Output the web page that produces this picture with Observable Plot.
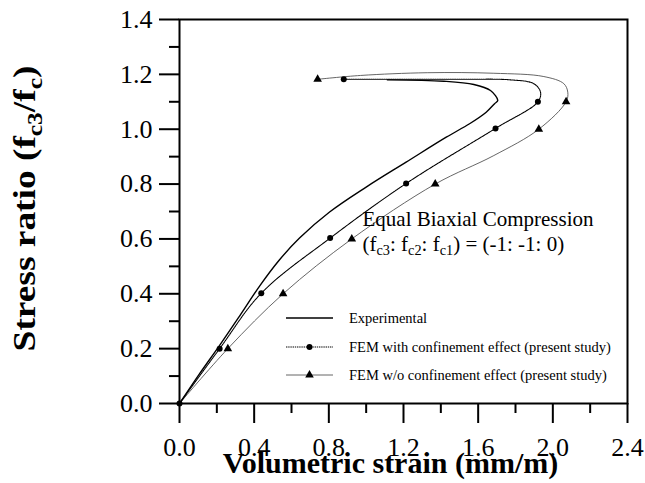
<!DOCTYPE html>
<html>
<head>
<meta charset="utf-8">
<script src="https://cdn.jsdelivr.net/npm/d3@7"></script>
<script src="https://cdn.jsdelivr.net/npm/@observablehq/plot@0.6"></script>
<style>
  body { margin: 0; background: #fff; }
</style>
</head>
<body>
<div id="chart"></div>
<script>
// Experimental stress–volumetric strain curve (equal biaxial compression)
const expStrain = [0, 0.107, 0.214, 0.321, 0.429, 0.536, 0.643, 0.804, 1.0, 1.214, 1.429, 1.554, 1.643, 1.688, 1.705, 1.666, 1.577, 1.416, 1.113];
const expStress = [0, 0.108, 0.211, 0.318, 0.428, 0.524, 0.603, 0.698, 0.789, 0.88, 0.971, 1.02, 1.062, 1.093, 1.105, 1.141, 1.163, 1.175, 1.18];

// FEM with confinement effect: traced curve and computed points
const withStrain = [0, 0.215, 0.438, 0.807, 1.214, 1.693, 1.92, 1.934, 1.898, 1.773, 1.505, 0.88];
const withStress = [0, 0.2, 0.402, 0.603, 0.802, 1.003, 1.1, 1.135, 1.166, 1.18, 1.182, 1.182];
const withPtStrain = [0, 0.215, 0.438, 0.807, 1.214, 1.693, 1.92, 0.88];
const withPtStress = [0, 0.2, 0.402, 0.603, 0.802, 1.003, 1.1, 1.182];

// FEM without confinement effect: traced curve and computed points
const woStrain = [0, 0.259, 0.555, 0.923, 1.37, 1.684, 1.925, 2.071, 2.08, 2.059, 1.952, 1.684, 1.327, 0.97, 0.74];
const woStress = [0, 0.2, 0.4, 0.6, 0.8, 0.904, 1.0, 1.1, 1.135, 1.166, 1.192, 1.204, 1.206, 1.196, 1.182];
const woPtStrain = [0.259, 0.555, 0.923, 1.37, 1.925, 2.071, 0.74];
const woPtStress = [0.2, 0.4, 0.6, 0.8, 1.0, 1.1, 1.182];

// Axis ticks
const xMajor = [0, 0.4, 0.8, 1.2, 1.6, 2.0, 2.4];
const xMinor = [0.2, 0.6, 1.0, 1.4, 1.8, 2.2];
const yMajor = [0, 0.2, 0.4, 0.6, 0.8, 1.0, 1.2, 1.4];
const yMinor = [0.1, 0.3, 0.5, 0.7, 0.9, 1.1, 1.3];

// Text
const xTitle = "Volumetric strain (mm/m)";
const yTitle = "Stress ratio (f_{c3}/f_{c})";
const noteLine1 = "Equal Biaxial Compression";
const noteLine2 = "(f_{c3}: f_{c2}: f_{c1}) = (-1: -1: 0)";
const seriesNames = [
  "Experimental",
  "FEM with confinement effect (present study)",
  "FEM w/o confinement effect (present study)"
];

const pts = (xs, ys) => xs.map((x, i) => ({x, y: ys[i]}));
const fmt = d3.format(".1f");
const serif = "'Liberation Serif', 'Times New Roman', serif";
const dotted = "1.4,0.8";

const svg = Plot.plot({
  width: 645,
  height: 483,
  marginLeft: 179,
  marginRight: 18,
  marginTop: 19,
  marginBottom: 80,
  style: {fontFamily: serif, background: "#fff", color: "#000"},
  x: {domain: [0, 2.4], label: null},
  y: {domain: [0, 1.4], label: null},
  marks: [
    Plot.axisX({ticks: xMajor, tickSize: 20, tickPadding: 14, tickFormat: fmt, fontSize: 26, strokeWidth: 2, label: null}),
    Plot.axisX({ticks: xMinor, tickSize: 10, tickFormat: () => "", strokeWidth: 2, label: null}),
    Plot.axisY({ticks: yMajor, tickSize: 20, tickPadding: 7, tickFormat: fmt, fontSize: 26, strokeWidth: 2, label: null}),
    Plot.axisY({ticks: yMinor, tickSize: 10, tickFormat: () => "", strokeWidth: 2, label: null}),
    Plot.line(pts(woStrain, woStress), {x: "x", y: "y", curve: "catmull-rom", stroke: "#555", strokeWidth: 0.9}),
    Plot.line(pts(withStrain, withStress), {x: "x", y: "y", curve: "catmull-rom", stroke: "#000", strokeWidth: 1.1, strokeDasharray: dotted}),
    Plot.line(pts(expStrain, expStress), {x: "x", y: "y", curve: "catmull-rom", stroke: "#000", strokeWidth: 1.4}),
    Plot.dot(pts(withPtStrain, withPtStress), {x: "x", y: "y", r: 3, fill: "#000", symbol: "circle"}),
    Plot.dot(pts(woPtStrain, woPtStress), {x: "x", y: "y", r: 3.2, fill: "#000", symbol: "triangle"}),
    Plot.frame({stroke: "#000", strokeWidth: 2}),
    Plot.text([noteLine1], {frameAnchor: "top-left", dx: 183, dy: 206, text: d => d, textAnchor: "start", lineAnchor: "bottom", fontSize: 21, fill: "#000"}),
    Plot.text([noteLine2], {frameAnchor: "top-left", dx: 183, dy: 231, text: d => d, textAnchor: "start", lineAnchor: "bottom", fontSize: 21, fill: "#000"}),
    Plot.text([xTitle], {frameAnchor: "bottom", dx: -13, dy: 69, text: d => d, textAnchor: "middle", lineAnchor: "bottom", fontSize: 30, fontWeight: "bold", fill: "#000"}),
    Plot.text([yTitle], {frameAnchor: "left", dx: -154, dy: -3, text: d => d, rotate: -90, textAnchor: "middle", lineAnchor: "middle", fontSize: 34, fontWeight: "bold", fill: "#000"})
  ]
});

document.getElementById("chart").append(svg);

// Turn "_{...}" runs into subscript tspans
const NS = "http://www.w3.org/2000/svg";
svg.querySelectorAll("text").forEach(t => {
  const s = t.textContent;
  if (!s.includes("_{")) return;
  const base = parseFloat(getComputedStyle(t).fontSize);
  t.textContent = "";
  let lowered = false;
  for (const part of s.split(/(_\{[^}]*\})/)) {
    if (!part) continue;
    const span = document.createElementNS(NS, "tspan");
    if (part.startsWith("_{")) {
      span.textContent = part.slice(2, -1);
      span.setAttribute("font-size", (base * 0.68).toFixed(1));
      if (!lowered) span.setAttribute("dy", (base * 0.22).toFixed(1));
      lowered = true;
    } else {
      span.textContent = part;
      if (lowered) span.setAttribute("dy", (-base * 0.22).toFixed(1));
      lowered = false;
    }
    t.appendChild(span);
  }
  // the rotated axis title is set a little long and narrow
  if (s === yTitle) {
    t.setAttribute("transform", (t.getAttribute("transform") || "") + " scale(1.1,0.9)");
  }
});

// Legend inside the plot area
const legend = d3.select(svg).append("g")
  .attr("font-family", serif)
  .attr("font-size", 14.5)
  .attr("text-anchor", "start");
const rowY = [318, 347, 375];
const lineX0 = 286, lineX1 = 333, textX = 349;
const styles = [
  {stroke: "#000", width: 1.4, dash: null, sym: null},
  {stroke: "#000", width: 1.1, dash: dotted, sym: d3.symbolCircle, size: Math.PI * 9},
  {stroke: "#555", width: 0.9, dash: null, sym: d3.symbolTriangle, size: Math.PI * 3.2 * 3.2}
];
seriesNames.forEach((name, i) => {
  const s = styles[i];
  const row = legend.append("g").attr("transform", `translate(0,${rowY[i]})`);
  row.append("line")
    .attr("x1", lineX0).attr("x2", lineX1)
    .attr("stroke", s.stroke).attr("stroke-width", s.width)
    .attr("stroke-dasharray", s.dash);
  if (s.sym) {
    row.append("path")
      .attr("d", d3.symbol(s.sym, s.size)())
      .attr("transform", `translate(${(lineX0 + lineX1) / 2},0)`)
      .attr("fill", "#000");
  }
  row.append("text")
    .attr("x", textX).attr("dy", "0.32em")
    .attr("fill", "#000")
    .text(name);
});
</script>
</body>
</html>
